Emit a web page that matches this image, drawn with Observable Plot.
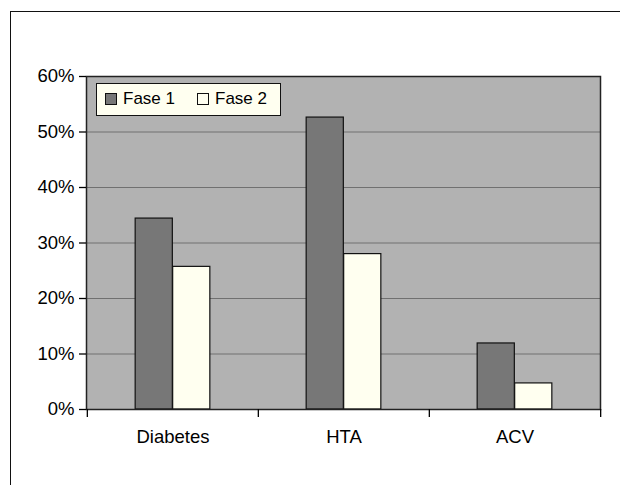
<!DOCTYPE html>
<html>
<head>
<meta charset="utf-8">
<script src="https://cdn.jsdelivr.net/npm/d3@7"></script>
<script src="https://cdn.jsdelivr.net/npm/@observablehq/plot@0.6"></script>
<style>
  html, body { margin: 0; padding: 0; background: #fff; }
  #wrap { position: relative; width: 620px; height: 485px; overflow: hidden; font-family: "Liberation Sans", Arial, sans-serif; }
  #border { position: absolute; left: 10px; top: 11px; width: 700px; height: 600px; border-left: 1.6px solid #111; border-top: 1.6px solid #111; }
  #legend { position: absolute; left: 96px; top: 83px; width: 183px; height: 31px; background: #FFFFF0; border: 1.6px solid #111; font-size: 17px; color: #000; }
  .item { position: absolute; top: 5px; display: flex; align-items: center; height: 20px; }
  .sw { width: 10px; height: 10px; border: 1.2px solid #111; margin-right: 6px; }
  #chart { position: absolute; left: 0; top: 0; }
</style>
</head>
<body>
<div id="wrap">
  <div id="border"></div>
  <div id="chart"></div>
  <div id="legend"></div>
</div>
<script>
const categories = ["Diabetes", "HTA", "ACV"];
const series = ["Fase 1", "Fase 2"];
const fase1 = [0.344, 0.526, 0.119];
const fase2 = [0.257, 0.280, 0.047];
const yTicks = [0, 0.1, 0.2, 0.3, 0.4, 0.5, 0.6];
const colors = ["#777777", "#FFFFF0"];

const data = categories.flatMap((c, i) => [
  {cat: c, series: series[0], value: fase1[i]},
  {cat: c, series: series[1], value: fase2[i]}
]);

const W = 620, H = 485, ML = 86, MR = 20, MT = 76, MB = 76;
const bw = (W - ML - MR) / categories.length;
const barW = 37.5;

const chart = Plot.plot({
  width: W,
  height: H,
  marginLeft: ML,
  marginRight: MR,
  marginTop: MT,
  marginBottom: MB,
  style: {fontSize: "18.5px", fontFamily: "'Liberation Sans', Arial, sans-serif", color: "#000", background: "transparent"},
  x: {domain: categories, padding: 0, label: null},
  y: {domain: [0, 0.6], label: null},
  marks: [
    Plot.frame({fill: "#b2b2b2"}),
    Plot.gridY(yTicks, {stroke: "#707070", strokeOpacity: 1, strokeWidth: 1.2}),
    Plot.barY(data.filter(d => d.series === series[0]), {
      x: "cat", y: "value", fill: colors[0], stroke: "#111", strokeWidth: 1.2,
      insetLeft: bw / 2 - barW, insetRight: bw / 2
    }),
    Plot.barY(data.filter(d => d.series === series[1]), {
      x: "cat", y: "value", fill: colors[1], stroke: "#111", strokeWidth: 1.2,
      insetLeft: bw / 2, insetRight: bw / 2 - barW
    }),
    Plot.frame({stroke: "#222", strokeWidth: 1.5}),
    Plot.axisY({ticks: yTicks, tickFormat: d3.format(".0%"), tickSize: 7, tickPadding: 5, strokeWidth: 1.3, fontSize: 18.5}),
    Plot.axisX({tickSize: 0, tickPadding: 20, fontSize: 18.5}),
    Plot.axisX({tickSize: 8, tickFormat: () => "", dx: -bw / 2, strokeWidth: 1.3}),
    Plot.axisX({ticks: [categories[categories.length - 1]], tickSize: 8, tickFormat: () => "", dx: bw / 2, strokeWidth: 1.3})
  ]
});
document.getElementById("chart").appendChild(chart);

const legend = document.getElementById("legend");
const offsets = [8, 100];
series.forEach((s, i) => {
  const it = document.createElement("div");
  it.className = "item";
  it.style.left = offsets[i] + "px";
  const sw = document.createElement("div");
  sw.className = "sw";
  sw.style.background = colors[i];
  const tx = document.createElement("span");
  tx.textContent = s;
  it.appendChild(sw);
  it.appendChild(tx);
  legend.appendChild(it);
});
</script>
</body>
</html>
